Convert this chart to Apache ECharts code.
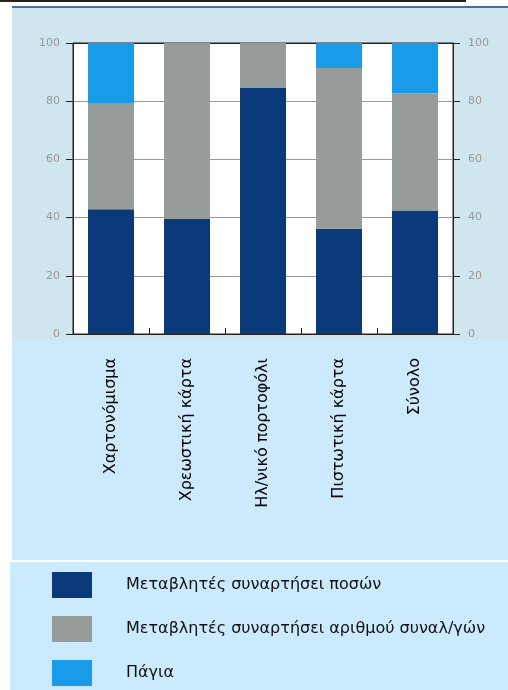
<!DOCTYPE html>
<html>
<head>
<meta charset="utf-8">
<script src="https://cdn.jsdelivr.net/npm/echarts@6/dist/echarts.min.js"></script>
<style>
    html, body { margin: 0; padding: 0; background: #fff; }
    #wrap { position: relative; width: 508px; height: 690px; overflow: hidden; }
    .bg { position: absolute; }
    #chartBox { position: absolute; left: 0; top: 0; width: 508px; height: 690px; }
</style>
</head>
<body>
<div id="wrap">
    <div class="bg" style="left:0;top:0;width:466px;height:2px;background:#222;"></div>
    <div class="bg" style="left:12px;top:6px;width:496px;height:2px;background:#4a6aa3;"></div>
    <div class="bg" style="left:12px;top:8px;width:496px;height:332px;background:#cfe6ee;"></div>
    <div class="bg" style="left:12px;top:340px;width:496px;height:220px;background:#cdeafc;"></div>
    <div class="bg" style="left:10px;top:562px;width:498px;height:128px;background:#cbeafd;"></div>
    <div id="chartBox"></div>
</div>
<script>
// μερίδια τύπων χρέωσης ανά μέσο πληρωμής (%)
var categories = ['Χαρτονόμισμα', 'Χρεωστική κάρτα', 'Ηλ/νικό πορτοφόλι', 'Πιστωτική κάρτα', 'Σύνολο'];
var seriesNames = ['Μεταβλητές συναρτήσει ποσών', 'Μεταβλητές συναρτήσει αριθμού συναλ/γών', 'Πάγια'];
var posaData = [42.9, 39.5, 84.5, 36.2, 42.4];
var arithmosData = [36.2, 60.5, 15.5, 55.2, 40.3];
var pagiaData = [20.9, 0, 0, 8.6, 17.3];
var yTicks = [0, 20, 40, 60, 80, 100];

var colors = ['#0a3a7a', '#959c9a', '#1a9bea'];

function makeYAxis(pos) {
    return {
        type: 'value',
        position: pos,
        min: yTicks[0],
        max: yTicks[yTicks.length - 1],
        interval: yTicks[1] - yTicks[0],
        axisLine: { show: true, lineStyle: { color: '#222', width: 1 } },
        axisTick: { show: true, length: 7, lineStyle: { color: '#222' } },
        axisLabel: {
            color: '#999',
            fontSize: 11,
            fontFamily: 'DejaVu Sans',
            margin: pos == 'left' ? 13 : 15
        },
        splitLine: {
            show: pos == 'left',
            lineStyle: { color: ['#222', '#999', '#999', '#999', '#999', '#222'], width: 1 }
        }
    };
}

var myChart = echarts.init(document.getElementById('chartBox'));

var option = {
    animation: false,
    backgroundColor: 'transparent',
    grid: {
        left: 73,
        right: 55,
        top: 43,
        bottom: 356,
        show: true,
        backgroundColor: '#fff',
        borderColor: '#222',
        borderWidth: 1
    },
    legend: {
        orient: 'vertical',
        left: 52,
        top: 572,
        height: 118,
        padding: 0,
        itemWidth: 40,
        itemHeight: 26,
        itemGap: 18,
        icon: 'rect',
        data: seriesNames,
        textStyle: {
            color: '#111',
            fontSize: 16,
            fontFamily: 'DejaVu Sans',
            padding: [0, 0, 0, 29]
        }
    },
    xAxis: {
        type: 'category',
        data: categories,
        axisLine: { show: true, lineStyle: { color: '#222', width: 1 } },
        axisTick: { show: true, inside: true, length: 6, lineStyle: { color: '#222' } },
        axisLabel: {
            rotate: 90,
            interval: 0,
            margin: 24,
            color: '#000',
            fontSize: 16,
            fontFamily: 'DejaVu Sans'
        }
    },
    yAxis: [makeYAxis('left'), makeYAxis('right')],
    series: [
        {
            name: seriesNames[0],
            type: 'bar',
            stack: 'all',
            barWidth: 46,
            data: posaData,
            itemStyle: { color: colors[0] }
        },
        {
            name: seriesNames[1],
            type: 'bar',
            stack: 'all',
            barWidth: 46,
            data: arithmosData,
            itemStyle: { color: colors[1] }
        },
        {
            name: seriesNames[2],
            type: 'bar',
            stack: 'all',
            barWidth: 46,
            data: pagiaData,
            itemStyle: { color: colors[2] }
        }
    ]
};

myChart.setOption(option);
</script>
</body>
</html>
